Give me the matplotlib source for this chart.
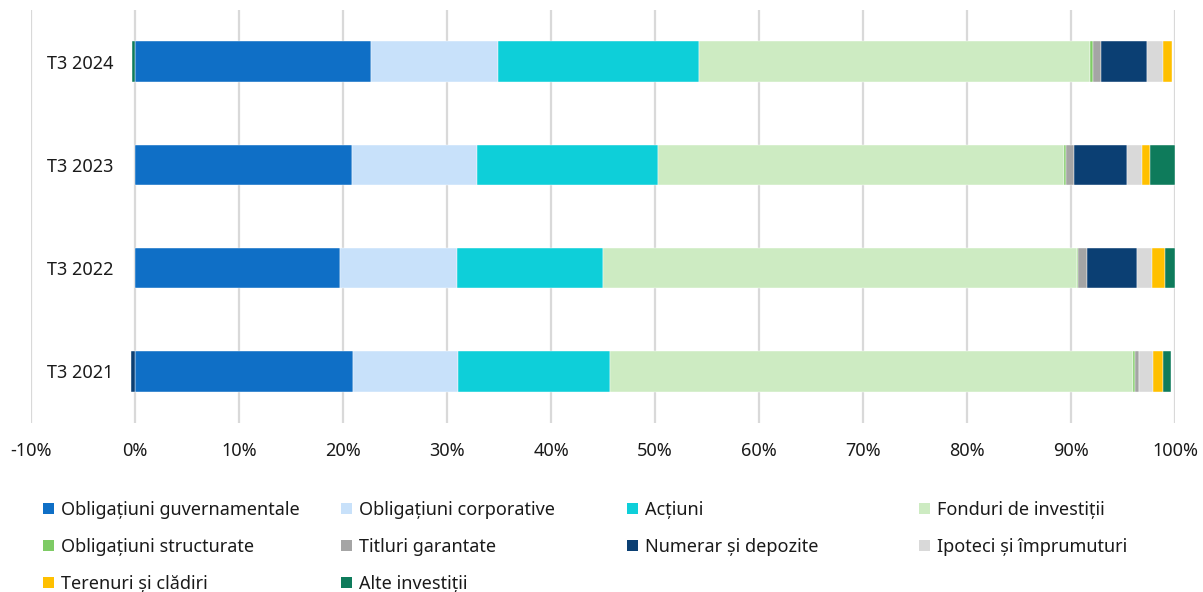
import matplotlib
matplotlib.use("Agg")
import matplotlib.pyplot as plt
from matplotlib.patches import Patch
import numpy as np

plt.rcParams['font.family'] = ['Noto Sans', 'DejaVu Sans']

# Portfolio structure by quarter (% of total investments)
categories = ['T3 2021', 'T3 2022', 'T3 2023', 'T3 2024']

series_names = [
    'Obligațiuni guvernamentale', 'Obligațiuni corporative', 'Acțiuni',
    'Fonduri de investiții', 'Obligațiuni structurate', 'Titluri garantate',
    'Numerar și depozite', 'Ipoteci și împrumuturi', 'Terenuri și clădiri',
    'Alte investiții',
]

gov_bonds = [21.0, 19.7, 20.9, 22.7]
corp_bonds = [10.1, 11.3, 12.0, 12.2]
equities = [14.6, 14.0, 17.4, 19.3]
inv_funds = [50.3, 45.6, 39.0, 37.6]
struct_bonds = [0.2, 0.1, 0.2, 0.3]
collat_secs = [0.3, 0.8, 0.8, 0.8]
cash_deposits = [-0.4, 4.8, 5.1, 4.4]
mortgages_loans = [1.4, 1.5, 1.4, 1.5]
property_land = [0.9, 1.2, 0.8, 0.9]
other_inv = [0.8, 1.0, 2.4, -0.3]

colors = ['#0F6FC6', '#C8E1FA', '#0ECFD9', '#CDEBC2', '#7ECB65',
          '#A5A5A5', '#0B3F73', '#D9D9D9', '#FFC000', '#0E7B5B']

series = [gov_bonds, corp_bonds, equities, inv_funds, struct_bonds,
          collat_secs, cash_deposits, mortgages_loans, property_land, other_inv]

W, H = 1203, 592
fig = plt.figure(figsize=(W / 100, H / 100), dpi=100)
ax = fig.add_axes([31 / W, 1 - 423 / H, (1175 - 31) / W, 413 / H])

y = np.arange(len(categories))
pos_left = np.zeros(len(categories))
neg_left = np.zeros(len(categories))
for vals, col, name in zip(series, colors, series_names):
    vals = np.asarray(vals, dtype=float)
    left = np.where(vals >= 0, pos_left, neg_left + vals)
    ax.barh(y, np.abs(vals), left=left, height=0.39, color=col,
            edgecolor='white', linewidth=0.3, label=name, zorder=3)
    pos_left = pos_left + np.where(vals >= 0, vals, 0)
    neg_left = neg_left + np.where(vals < 0, vals, 0)

ax.set_xlim(-10, 100)
ax.set_ylim(-0.5, 3.5)
ax.set_xticks(np.arange(-10, 101, 10))
ax.set_xticklabels([f'{v}%' for v in range(-10, 101, 10)])
ax.set_yticks(y)
ax.set_yticklabels(categories)
ax.grid(axis='x', color='#D9D9D9', linewidth=1.6, zorder=0)
for s in ax.spines.values():
    s.set_visible(False)
ax.tick_params(axis='x', length=0, pad=14, labelsize=13, labelcolor='#1A1A1A')
ax.tick_params(axis='y', length=0, pad=-59.5, labelsize=13, labelcolor='#1A1A1A')

# Legend laid out in four evenly spaced columns, filled row by row
handles = [Patch(facecolor=c, edgecolor='none') for c in colors]
col_x = [43, 341, 627, 919]
ncol = 4
top_px = 501
for c in range(ncol):
    idx = list(range(c, len(series_names), ncol))
    fig.legend([handles[i] for i in idx], [series_names[i] for i in idx],
               loc='upper left', bbox_to_anchor=(col_x[c] / W, 1 - top_px / H),
               bbox_transform=fig.transFigure, frameon=False, fontsize=13,
               handlelength=0.62, handleheight=0.62, handletextpad=0.35,
               borderpad=0, borderaxespad=0, labelspacing=1.05,
               labelcolor='#1A1A1A')

fig.savefig('out.png', dpi=100, facecolor='white')
